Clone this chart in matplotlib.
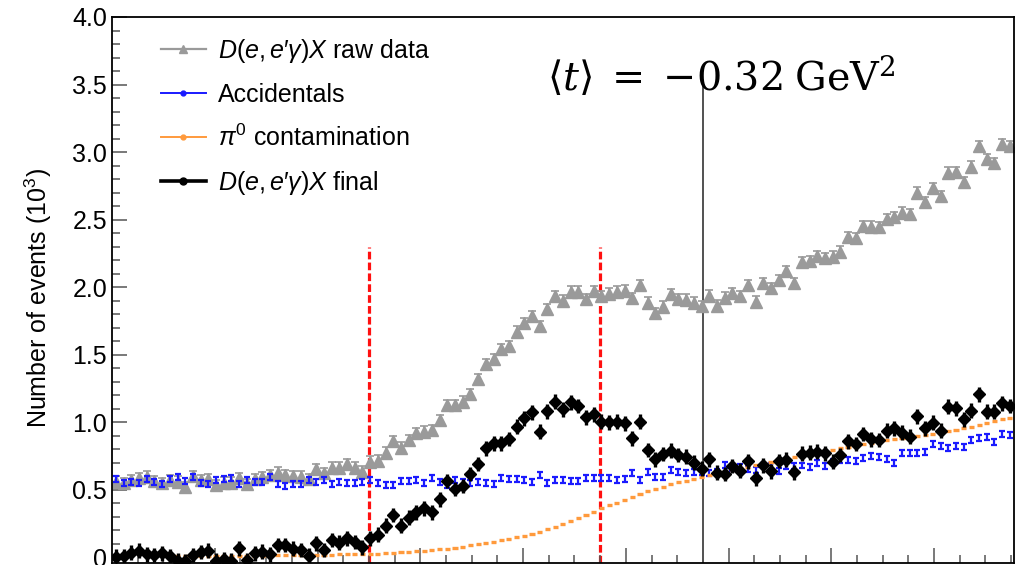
import numpy as np
import matplotlib
matplotlib.use("Agg")
import matplotlib.pyplot as plt
from matplotlib.lines import Line2D

plt.rcParams['font.family'] = ['Liberation Sans', 'DejaVu Sans']
plt.rcParams['mathtext.fontset'] = 'custom'
plt.rcParams['mathtext.rm'] = 'Liberation Sans'
plt.rcParams['mathtext.it'] = 'Liberation Sans:italic'
plt.rcParams['mathtext.bf'] = 'Liberation Sans:bold'

# histogram binning (117 bins of 0.015 starting at -0.2)
X_LO = -0.2
BIN_W = 0.015

# counts in units of 10^3 events per bin
raw_data = [
    0.558, 0.546, 0.570, 0.583, 0.595, 0.563, 0.546, 0.570, 0.558, 0.516,
    0.600, 0.570, 0.575, 0.533, 0.550, 0.550, 0.583, 0.538, 0.575, 0.590,
    0.607, 0.625, 0.607, 0.600, 0.595, 0.575, 0.650, 0.620, 0.662, 0.662,
    0.687, 0.662, 0.632, 0.706, 0.713, 0.773, 0.859, 0.810, 0.867, 0.916,
    0.928, 0.941, 1.015, 1.126, 1.126, 1.150, 1.207, 1.319, 1.430, 1.464,
    1.538, 1.563, 1.669, 1.731, 1.785, 1.711, 1.835, 1.933, 1.899, 1.965,
    1.965, 1.909, 1.970, 1.932, 1.950, 1.965, 1.973, 1.916, 2.015, 1.884,
    1.805, 1.854, 1.948, 1.912, 1.906, 1.884, 1.856, 1.937, 1.863, 1.920,
    1.953, 1.930, 2.015, 1.891, 2.027, 1.990, 2.050, 2.118, 2.030, 2.184,
    2.190, 2.230, 2.215, 2.225, 2.262, 2.370, 2.360, 2.452, 2.447, 2.442,
    2.501, 2.515, 2.552, 2.540, 2.699, 2.628, 2.731, 2.672, 2.847, 2.849,
    2.778, 2.891, 3.044, 2.946, 2.916, 3.059, 3.044,
]

accidentals = [
    0.575, 0.550, 0.555, 0.546, 0.580, 0.558, 0.538, 0.575, 0.595, 0.565,
    0.595, 0.546, 0.540, 0.570, 0.575, 0.587, 0.538, 0.570, 0.558, 0.555,
    0.595, 0.538, 0.526, 0.544, 0.544, 0.570, 0.558, 0.570, 0.538, 0.555,
    0.550, 0.550, 0.556, 0.570, 0.546, 0.533, 0.533, 0.563, 0.563, 0.570,
    0.546, 0.583, 0.558, 0.533, 0.570, 0.558, 0.546, 0.558, 0.551, 0.538,
    0.588, 0.578, 0.578, 0.570, 0.553, 0.607, 0.551, 0.570, 0.570, 0.565,
    0.565, 0.588, 0.588, 0.588, 0.583, 0.570, 0.578, 0.620, 0.570, 0.632,
    0.595, 0.590, 0.644, 0.632, 0.620, 0.632, 0.632, 0.622, 0.632, 0.681,
    0.657, 0.669, 0.649, 0.646, 0.678, 0.677, 0.635, 0.677, 0.677, 0.678,
    0.664, 0.694, 0.674, 0.706, 0.719, 0.719, 0.713, 0.731, 0.748, 0.738,
    0.728, 0.699, 0.768, 0.768, 0.768, 0.780, 0.837, 0.822, 0.810, 0.822,
    0.817, 0.867, 0.879, 0.887, 0.854, 0.911, 0.904,
]

# pi0 estimate is empty in the first 8 bins
pi0 = [
    np.nan, np.nan, np.nan, np.nan, np.nan, np.nan, np.nan, np.nan, 0.007, 0.007,
    0.008, 0.008, 0.008, 0.009, 0.009, 0.010, 0.010, 0.010, 0.011, 0.011,
    0.012, 0.012, 0.013, 0.013, 0.014, 0.015, 0.016, 0.017, 0.018, 0.019,
    0.020, 0.021, 0.022, 0.024, 0.026, 0.029, 0.032, 0.035, 0.038, 0.042,
    0.046, 0.051, 0.057, 0.063, 0.070, 0.078, 0.086, 0.095, 0.104, 0.113,
    0.123, 0.134, 0.146, 0.159, 0.173, 0.188, 0.205, 0.225, 0.246, 0.268,
    0.291, 0.314, 0.337, 0.360, 0.382, 0.403, 0.424, 0.445, 0.466, 0.486,
    0.505, 0.522, 0.538, 0.553, 0.567, 0.580, 0.593, 0.606, 0.619, 0.632,
    0.645, 0.657, 0.668, 0.679, 0.691, 0.703, 0.715, 0.727, 0.739, 0.750,
    0.761, 0.772, 0.783, 0.795, 0.806, 0.817, 0.827, 0.837, 0.847, 0.857,
    0.866, 0.875, 0.883, 0.892, 0.900, 0.906, 0.912, 0.921, 0.932, 0.943,
    0.955, 0.967, 0.980, 0.993, 1.006, 1.020, 1.033,
]

final = [
    0.002, 0.007, 0.032, 0.047, 0.022, 0.015, 0.027, 0.007, -0.027, -0.032,
    0.015, 0.037, 0.047, -0.027, -0.017, -0.027, 0.064, -0.022, 0.027, 0.040,
    0.020, 0.089, 0.089, 0.062, 0.052, 0.010, 0.101, 0.052, 0.126, 0.106,
    0.138, 0.111, 0.072, 0.138, 0.164, 0.232, 0.311, 0.232, 0.291, 0.331,
    0.360, 0.331, 0.427, 0.563, 0.504, 0.526, 0.615, 0.689, 0.805, 0.842,
    0.842, 0.874, 0.965, 1.027, 1.072, 0.928, 1.081, 1.150, 1.094, 1.146,
    1.119, 1.035, 1.058, 1.002, 0.998, 1.002, 0.990, 0.879, 1.002, 0.793,
    0.724, 0.763, 0.788, 0.756, 0.743, 0.699, 0.653, 0.724, 0.626, 0.615,
    0.674, 0.638, 0.708, 0.583, 0.681, 0.636, 0.712, 0.721, 0.628, 0.764,
    0.773, 0.780, 0.768, 0.706, 0.756, 0.859, 0.837, 0.911, 0.872, 0.867,
    0.936, 0.953, 0.921, 0.891, 1.044, 0.953, 0.995, 0.936, 1.114, 1.101,
    1.020, 1.084, 1.207, 1.077, 1.077, 1.138, 1.119,
]

# typical statistical error per bin for each histogram
raw_err = 0.04
acc_err = 0.022
pi0_err = 0.005
final_err = 0.055

cut_lines = [0.30, 0.75]
cut_top = 2.3
t_line = 0.95
t_top = 3.5

ytick_vals = [0, 0.5, 1.0, 1.5, 2.0, 2.5, 3.0, 3.5, 4.0]
ytick_labels = ['0', '0.5', '1.0', '1.5', '2.0', '2.5', '3.0', '3.5', '4.0']

nbins = len(raw_data)
x = X_LO + BIN_W * (np.arange(nbins) + 0.5)

fig = plt.figure(figsize=(10.25, 5.65), dpi=100)
ax = fig.add_axes([112 / 1025, 2 / 565, 901.5 / 1025, 546 / 565])

ymin = -0.044
ax.vlines(cut_lines, ymin, cut_top, colors='#ff1010', linewidth=2.3,
          linestyles=[(0, (2.4, 1.0))], zorder=1.5)
ax.vlines(t_line, ymin, t_top, colors='#333333', linewidth=1.2, zorder=1.5)

gray = '#9a9a9a'
blue = '#1a1aff'
orange = '#ff9a3c'

ax.errorbar(x, raw_data, yerr=raw_err, fmt='^', color=gray, ms=8,
            ecolor=gray, elinewidth=1.2, capsize=3, capthick=1.2, zorder=2)
ax.errorbar(x, accidentals, yerr=acc_err, fmt='none', ecolor=blue,
            elinewidth=1.6, capsize=2.5, capthick=1.6, zorder=3)
ax.errorbar(x, pi0, xerr=0.005, yerr=pi0_err, fmt='none', ecolor=orange,
            elinewidth=2.4, capsize=0, zorder=3)
ax.errorbar(x, final, yerr=final_err, fmt='D', color='black', ms=6.5,
            ecolor='black', elinewidth=2.4, capsize=0, zorder=4)

ax.set_xlim(X_LO, X_LO + 117 * BIN_W - 0.0005)
ax.set_ylim(ymin, 4.0)

ax.set_xticks(np.arange(0.0, 1.41, 0.2))
ax.set_xticks(np.arange(-0.15, 1.551, 0.05), minor=True)
ax.set_yticks(ytick_vals)
ax.set_yticklabels(ytick_labels)
ax.set_yticks(np.arange(0.1, 4.0, 0.1), minor=True)

ax.tick_params(which='both', direction='in', top=False, right=False,
               labelbottom=False, labelsize=18, color='#555555', width=1.1)
ax.tick_params(which='major', length=11)
ax.tick_params(which='minor', length=6)
for side in ax.spines.values():
    side.set_linewidth(1.3)

ax.set_ylabel(r'Number of events (10$^3$)', fontsize=18)
ax.yaxis.set_label_coords(-0.064, 0.485)

handles = [
    Line2D([], [], color=gray, lw=1.6, marker='^', ms=6),
    Line2D([], [], color=blue, lw=1.4, marker='o', ms=3.5),
    Line2D([], [], color=orange, lw=1.4, marker='o', ms=3.5),
    Line2D([], [], color='black', lw=2.6, marker='o', ms=5),
]
labels = [
    "$D(e,e\u2032\\gamma)X$ raw data",
    'Accidentals',
    r'$\pi^0$ contamination',
    "$D(e,e\u2032\\gamma)X$ final",
]
ax.legend(handles, labels, loc='upper left', bbox_to_anchor=(0.054, 0.964),
          frameon=False, fontsize=18, handlelength=1.8, handletextpad=0.5,
          labelspacing=0.72, borderaxespad=0, borderpad=0)

ax.text(0.4825, 0.867, r'$\langle t\rangle\;=\;{-}0.32\;\mathrm{GeV}^2$',
        transform=ax.transAxes, fontsize=28.5, math_fontfamily='dejavuserif',
        ha='left', va='baseline')

fig.savefig('out.png', dpi=100)
